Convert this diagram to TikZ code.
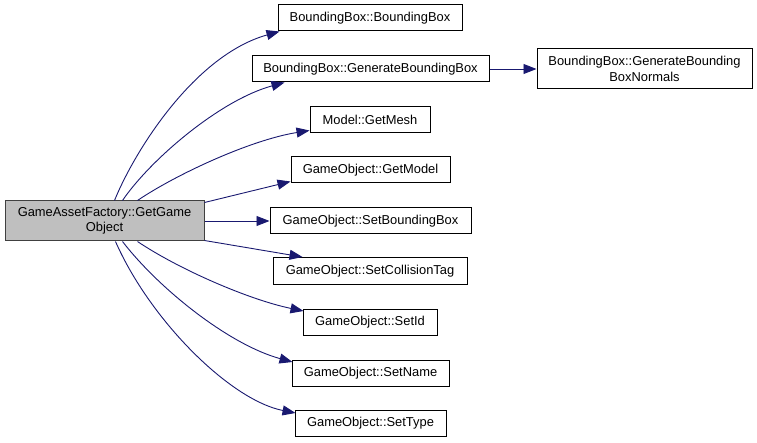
\documentclass[tikz,border=0pt]{standalone}
\usepackage{fontspec}
\setmainfont{Liberation Sans}
\usetikzlibrary{arrows.meta}
\definecolor{edgeblue}{HTML}{191970}
\definecolor{srcfill}{HTML}{BFBFBF}
\tikzset{
  fn/.style={draw=black, line width=1pt, fill=white, inner sep=0pt, align=center,
    minimum height=26pt, font=\fontsize{12.9}{15.5}\selectfont},
  srcbox/.style={fn, fill=srcfill, draw=black!75},
  call/.style={draw=edgeblue, line width=0.9pt,
    -{Triangle[length=13pt,width=10pt,fill=edgeblue]}},
}
\begin{document}
\begin{tikzpicture}[x=1pt,y=-1pt]
\useasboundingbox (0,0) rectangle (757,443);
\node[srcbox, minimum width=199pt, minimum height=40pt] (src) at (104.5,221) {GameAssetFactory::GetGame\\Object};
\node[fn, minimum width=184pt] (bb) at (370,18) {BoundingBox::BoundingBox};
\node[fn, minimum width=237pt] (gbb) at (370.5,69) {BoundingBox::GenerateBoundingBox};
\node[fn, minimum width=215pt, minimum height=40pt] (norm) at (644.5,69) {BoundingBox::GenerateBounding\\BoxNormals};
\node[fn, minimum width=120pt] (mesh) at (370,120) {Model::GetMesh};
\node[fn, minimum width=159pt] (model) at (370.5,170) {GameObject::GetModel};
\node[fn, minimum width=201pt] (setbb) at (370.5,221) {GameObject::SetBoundingBox};
\node[fn, minimum width=194pt, minimum height=27pt] (setct) at (370,271) {GameObject::SetCollisionTag};
\node[fn, minimum width=134pt] (setid) at (370,322.5) {GameObject::SetId};
\node[fn, minimum width=157pt] (setname) at (370.5,373.5) {GameObject::SetName};
\node[fn, minimum width=151pt] (settype) at (370.5,423.5) {GameObject::SetType};

\draw[call] ([xshift=110pt]src.north west) .. controls (135,150) and (195,55) .. ([xshift=2pt]bb.south west);
\draw[call] ([xshift=118pt]src.north west) .. controls (150,160) and (220,100) .. ([xshift=33pt]gbb.south west);
\draw[call] ([xshift=133pt]src.north west) .. controls (175,175) and (250,140) .. ([yshift=3pt]mesh.south west);
\draw[call] ([yshift=-2pt]src.north east) -- ([yshift=2pt]model.south west);
\draw[call] (src.east) -- (setbb.west);
\draw[call] ([yshift=1pt]src.south east) -- ([xshift=30pt]setct.north west);
\draw[call] ([xshift=133pt]src.south west) .. controls (180,270) and (250,300) .. ([xshift=1pt,yshift=-2pt]setid.north west);
\draw[call] ([xshift=118pt]src.south west) .. controls (160,290) and (230,345) .. ([xshift=1pt,yshift=-2pt]setname.north west);
\draw[call] ([xshift=111pt]src.south west) .. controls (150,320) and (230,400) .. ([xshift=1pt,yshift=-3pt]settype.north west);
\draw[call] (gbb.east) -- (norm.west);
\end{tikzpicture}
\end{document}
